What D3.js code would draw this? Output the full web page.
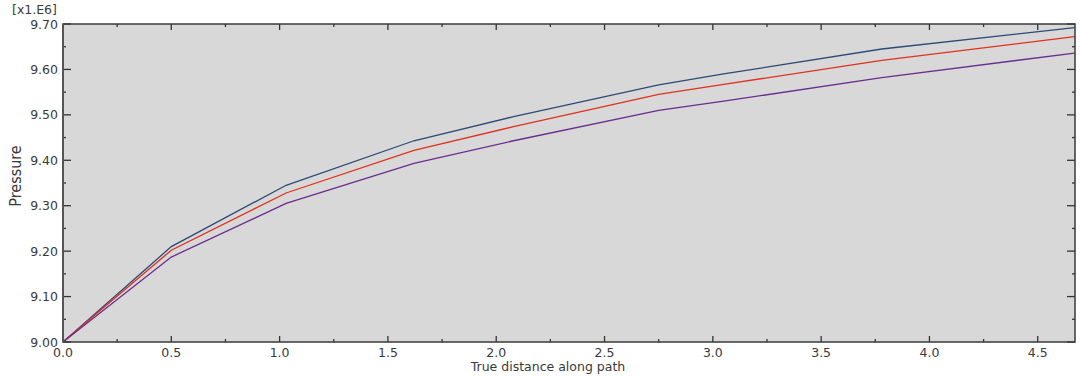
<!DOCTYPE html>
<html>
<head>
<meta charset="utf-8">
<script src="https://cdn.jsdelivr.net/npm/d3@7"></script>
<style>
  body { margin: 0; background: #fff; }
  text { font-family: "DejaVu Sans", Verdana, sans-serif; fill: #3a3a3a; }
</style>
</head>
<body>
<div id="chart"></div>
<script>
// values (pressure in units of 1e6)
var distance = [0, 0.50, 1.03, 1.62, 2.08, 2.75, 3.05, 3.78, 4.67];
var pressureTop = [9.000, 9.210, 9.345, 9.443, 9.496, 9.566, 9.590, 9.645, 9.692];
var pressureMid = [9.000, 9.202, 9.328, 9.422, 9.474, 9.545, 9.567, 9.620, 9.672];
var pressureLow = [9.000, 9.187, 9.305, 9.393, 9.443, 9.510, 9.530, 9.582, 9.636];
var seriesColors = ["#2b4a76", "#e0301e", "#6a2d8f"];
var xTicks = [0, 0.5, 1, 1.5, 2, 2.5, 3, 3.5, 4, 4.5];
var yTicks = [9.0, 9.1, 9.2, 9.3, 9.4, 9.5, 9.6, 9.7];

var W = 1080, H = 378;
var margin = {top: 24, right: 5, bottom: 36, left: 63},
  width = W - margin.left - margin.right,
  height = H - margin.top - margin.bottom;

var svg = d3.select("#chart").append("svg")
  .attr("width", W).attr("height", H);
var g = svg.append("g")
  .attr("transform", "translate(" + margin.left + "," + margin.top + ")");

var x = d3.scaleLinear().domain([0, 4.672]).range([0, width]);
var y = d3.scaleLinear().domain([9.0, 9.7]).range([height, 0]);

// plot background
g.append("rect")
  .attr("width", width).attr("height", height)
  .attr("fill", "#d8d8d8");

// minor tick positions
var xMinor = d3.range(0.25, 4.672, 0.5);
var yMinor = d3.range(9.05, 9.7, 0.1);

// ticks on all four sides, pointing inward
function drawTicks(vals, len, horiz) {
  vals.forEach(function(v) {
    if (horiz) {
      g.append("line").attr("x1", x(v)).attr("x2", x(v))
        .attr("y1", height).attr("y2", height - len)
        .attr("stroke", "#333").attr("stroke-width", 1.3);
      g.append("line").attr("x1", x(v)).attr("x2", x(v))
        .attr("y1", 0).attr("y2", len)
        .attr("stroke", "#333").attr("stroke-width", 1.3);
    } else {
      g.append("line").attr("x1", 0).attr("x2", len)
        .attr("y1", y(v)).attr("y2", y(v))
        .attr("stroke", "#333").attr("stroke-width", 1.3);
      g.append("line").attr("x1", width).attr("x2", width - len)
        .attr("y1", y(v)).attr("y2", y(v))
        .attr("stroke", "#333").attr("stroke-width", 1.3);
    }
  });
}
drawTicks(xTicks, 6, true);
drawTicks(xMinor, 3, true);
drawTicks(yTicks, 8, false);
drawTicks(yMinor, 3, false);

// lines
var line = d3.line()
  .x(function(d, i) { return x(distance[i]); })
  .y(function(d) { return y(d); });

[pressureTop, pressureMid, pressureLow].forEach(function(s, i) {
  g.append("path")
    .datum(s)
    .attr("d", line)
    .attr("fill", "none")
    .attr("stroke", seriesColors[i])
    .attr("stroke-width", 1.3);
});

// frame
g.append("rect")
  .attr("width", width).attr("height", height)
  .attr("fill", "none").attr("stroke", "#3a3a3a").attr("stroke-width", 1.5);
g.append("line").attr("x1", 0).attr("x2", 0).attr("y1", 0).attr("y2", height)
  .attr("stroke", "#555").attr("stroke-width", 2);

// axis labels
g.selectAll(".ylab").data(yTicks).enter().append("text")
  .attr("x", -5).attr("y", function(d) { return y(d); })
  .attr("dy", "0.36em")
  .attr("text-anchor", "end")
  .style("font-size", "12.5px")
  .text(function(d) { return d.toFixed(2); });

g.selectAll(".xlab").data(xTicks).enter().append("text")
  .attr("x", function(d) { return x(d); }).attr("y", height + 15)
  .attr("text-anchor", "middle")
  .style("font-size", "12.5px")
  .text(function(d) { return d.toFixed(1); });

svg.append("text")
  .attr("x", 548).attr("y", 371)
  .attr("text-anchor", "middle")
  .style("font-size", "12.5px")
  .text("True distance along path");

svg.append("text")
  .attr("transform", "translate(21,176) rotate(-90)")
  .attr("text-anchor", "middle")
  .style("font-family", "'DejaVu Sans Condensed', 'DejaVu Sans', sans-serif")
  .style("font-size", "16px")
  .text("Pressure");

svg.append("text")
  .attr("x", 12).attr("y", 14)
  .style("font-size", "12.5px")
  .text("[x1.E6]");
</script>
</body>
</html>
